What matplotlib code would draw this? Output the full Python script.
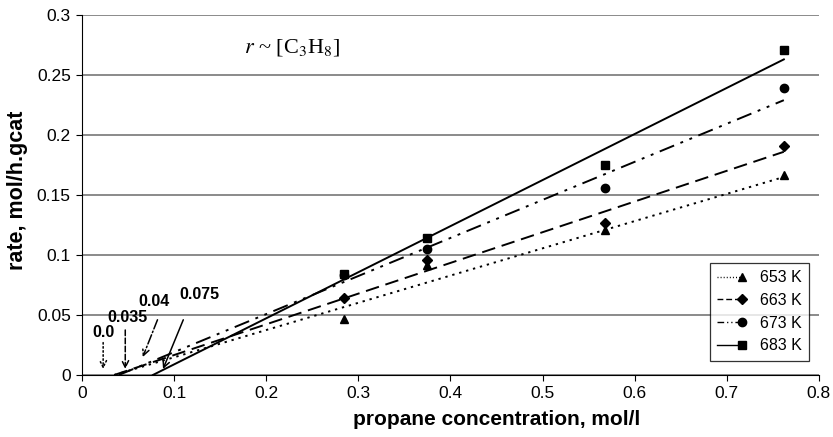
import matplotlib
matplotlib.use("Agg")
import matplotlib.pyplot as plt
from matplotlib.lines import Line2D
from matplotlib.legend_handler import HandlerBase

plt.rcParams['font.family'] = ['Liberation Sans', 'DejaVu Sans']

conc = [0.285, 0.375, 0.568, 0.762]
temps = ["653 K", "663 K", "673 K", "683 K"]
rate_653 = [0.047, 0.092, 0.121, 0.167]
rate_663 = [0.064, 0.096, 0.127, 0.191]
rate_673 = [0.083, 0.105, 0.156, 0.239]
rate_683 = [0.084, 0.114, 0.175, 0.271]
rates = [rate_653, rate_663, rate_673, rate_683]

# fitted lines: start (x-intercept) and end
fit_x0 = [0.035, 0.035, 0.04, 0.077]
fit_y1 = [0.165, 0.186, 0.229, 0.263]
fit_x1 = 0.762

markers = ['^', 'D', 'o', 's']
msizes = [6, 5, 6, 6]
dashes = [(1.2, 2.5), (7, 3.5), (8, 3.5, 1.5, 3.5, 1.5, 3.5), None]

ann_labels = ["0.0", "0.035", "0.04", "0.075"]
ann_text_xy = [(0.023, 0.035), (0.049, 0.0475), (0.078, 0.061), (0.127, 0.067)]
ann_tail = [(0.023, 0.027), (0.047, 0.0375), (0.082, 0.046), (0.110, 0.046)]
ann_head = [(0.023, 0.005), (0.047, 0.005), (0.066, 0.015), (0.088, 0.005)]


class RightMarkerHandler(HandlerBase):
    def create_artists(self, legend, orig_handle, xdescent, ydescent,
                       width, height, fontsize, trans):
        y = height / 2 - ydescent
        x0 = -xdescent
        x1 = width - xdescent
        ln = Line2D([x0, x1], [y, y], color='black', lw=orig_handle.get_linewidth())
        d = orig_handle.get_dashes_custom
        if d is not None:
            ln.set_dashes(d)
        mk = Line2D([x1], [y], linestyle='none', marker=orig_handle.get_marker(),
                    ms=orig_handle.get_markersize(), color='black')
        ln.set_transform(trans)
        mk.set_transform(trans)
        return [ln, mk]


fig = plt.figure(figsize=(8.33, 4.37), dpi=100)
ax = fig.add_axes([0.0984, 0.1419, 0.8846, 0.8238])

handles = []
for i in range(4):
    ln, = ax.plot([fit_x0[i], fit_x1], [0.0, fit_y1[i]], color='black', lw=1.4)
    if dashes[i] is not None:
        ln.set_dashes(dashes[i])
    ax.plot(conc, rates[i], linestyle='none', marker=markers[i], ms=msizes[i],
            color='black')
    h = Line2D([0], [0], color='black', lw=1.0, marker=markers[i], ms=msizes[i])
    h.get_dashes_custom = None if dashes[i] is None else tuple(d * 0.6 for d in dashes[i])
    handles.append(h)

for i in range(4):
    ax.annotate("", xy=ann_head[i], xytext=ann_tail[i],
                arrowprops=dict(arrowstyle='->', color='black', lw=1.1,
                                linestyle=[':', '--', '-.', '-'][i],
                                mutation_scale=12, shrinkA=0, shrinkB=0))
    ax.text(ann_text_xy[i][0], ann_text_xy[i][1], ann_labels[i], ha='center',
            va='center', fontsize=11.5, fontweight='bold')

ax.text(0.2286, 0.2733, r"$r$ ~ [C$_3$H$_8$]", ha='center', va='center',
        fontsize=16, family='Liberation Serif', math_fontfamily='stix')

ax.set_xlim(0, 0.8)
ax.set_ylim(0, 0.3)
ax.set_xticks([0, 0.1, 0.2, 0.3, 0.4, 0.5, 0.6, 0.7, 0.8])
ax.set_xticklabels(["0", "0.1", "0.2", "0.3", "0.4", "0.5", "0.6", "0.7", "0.8"])
ax.set_yticks([0, 0.05, 0.1, 0.15, 0.2, 0.25, 0.3])
ax.set_yticklabels(["0", "0.05", "0.1", "0.15", "0.2", "0.25", "0.3"])
ax.tick_params(labelsize=12.5, length=4, color='black', pad=4)
ax.yaxis.grid(True, color='#777777', lw=1.2)
ax.set_axisbelow(True)
ax.spines['top'].set_visible(False)
ax.spines['right'].set_visible(False)
ax.set_xlabel("propane concentration, mol/l", fontsize=15, fontweight='bold')
ax.set_ylabel("rate, mol/h.gcat", fontsize=15.5, fontweight='bold')
ax.xaxis.set_label_coords(0.563, -0.097)
ax.yaxis.set_label_coords(-0.073, 0.514)

leg = ax.legend(handles, temps, loc='lower right', bbox_to_anchor=(0.9865, 0.04),
                handler_map={Line2D: RightMarkerHandler()},
                fontsize=11.5, frameon=True, fancybox=False, edgecolor='black',
                handlelength=1.6, handletextpad=1.1, borderpad=0.45,
                labelspacing=0.48, borderaxespad=0)
leg.get_frame().set_linewidth(0.9)

fig.savefig("out.png", dpi=100)
